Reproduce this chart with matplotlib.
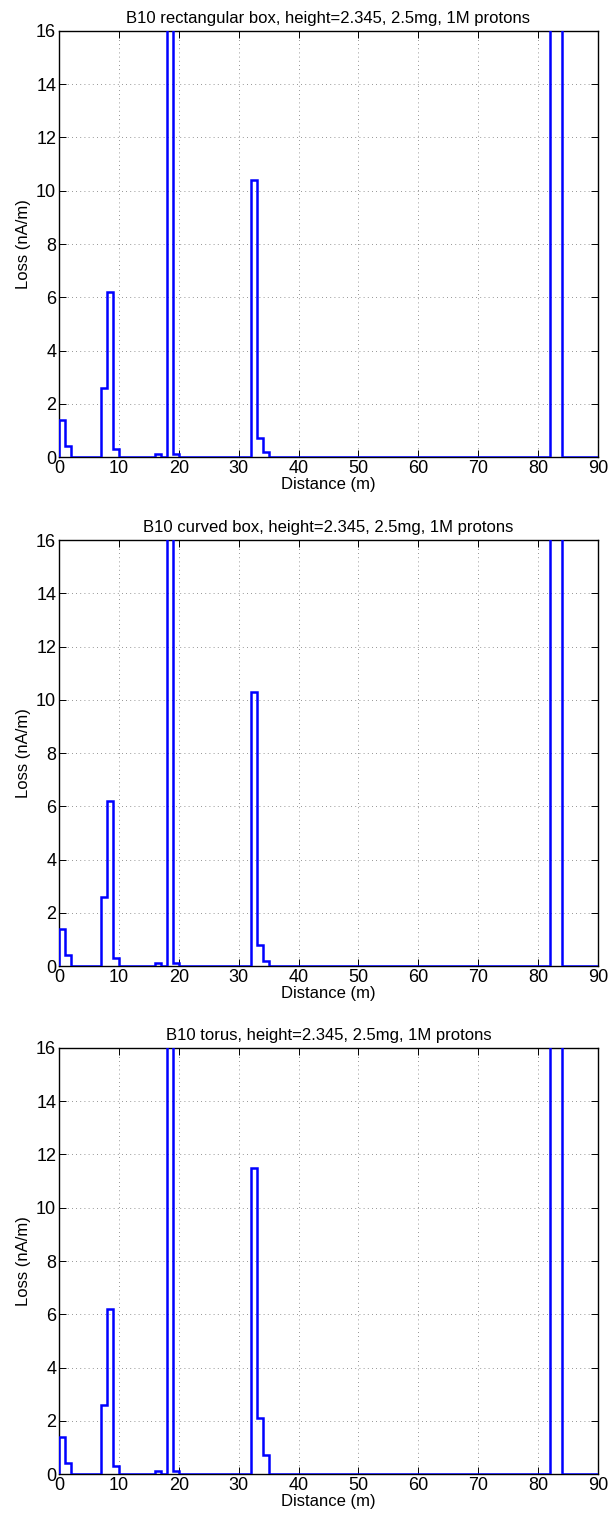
import numpy as np
import matplotlib.pyplot as plt

plt.rcParams['font.family'] = ['Liberation Sans', 'DejaVu Sans']

# bin edges along the beam line, 1 m bins from 0 to 90 m
edges = np.arange(0, 91, 1)

# non-zero bins (start of bin in m -> loss in nA/m); everything else is 0
rect_box = {0: 1.4, 1: 0.4, 7: 2.6, 8: 6.2, 9: 0.3, 16: 0.1,
            18: 45.0, 19: 0.1, 32: 10.4, 33: 0.7, 34: 0.2,
            82: 60.0, 83: 55.0}
curved_box = {0: 1.4, 1: 0.4, 7: 2.6, 8: 6.2, 9: 0.3, 16: 0.1,
              18: 45.0, 19: 0.1, 32: 10.3, 33: 0.8, 34: 0.2,
              82: 60.0, 83: 55.0}
torus = {0: 1.4, 1: 0.4, 7: 2.6, 8: 6.2, 9: 0.3, 16: 0.1,
         18: 45.0, 19: 0.1, 32: 11.5, 33: 2.1, 34: 0.7,
         82: 60.0, 83: 55.0}

titles = ['B10 rectangular box, height=2.345, 2.5mg, 1M protons',
          'B10 curved box, height=2.345, 2.5mg, 1M protons',
          'B10 torus, height=2.345, 2.5mg, 1M protons']


def to_bins(d):
    v = np.zeros(len(edges) - 1)
    for k, val in d.items():
        v[k] = val
    return v


fig = plt.figure(figsize=(6.10, 15.17), dpi=100)

# axes boxes in figure fractions (left, bottom, width, height)
boxes = [[0.0967, 0.6987, 0.8836, 0.2809],
         [0.0967, 0.3632, 0.8836, 0.2808],
         [0.0967, 0.0283, 0.8836, 0.2809]]

for box, data, title in zip(boxes, [rect_box, curved_box, torus], titles):
    ax = fig.add_axes(box)
    ax.stairs(to_bins(data), edges, color='#0000ff', lw=1.8, zorder=5)
    ax.set_xlim(0, 90)
    ax.set_ylim(0, 16)
    ax.set_xticks(np.arange(0, 91, 10))
    ax.set_yticks(np.arange(0, 17, 2))
    ax.grid(True, linestyle=(0, (1, 4)), color='0.45', lw=0.6)
    ax.tick_params(direction='in', top=True, right=True, length=5,
                   width=0.7, labelsize=13, pad=2)
    for s in ax.spines.values():
        s.set_linewidth(1.0)
    ax.set_xlabel('Distance (m)', fontsize=12, labelpad=0)
    ax.set_ylabel('Loss (nA/m)', fontsize=12, labelpad=4)
    ax.set_title(title, fontsize=12, pad=6)

fig.savefig('out.png', dpi=100)
